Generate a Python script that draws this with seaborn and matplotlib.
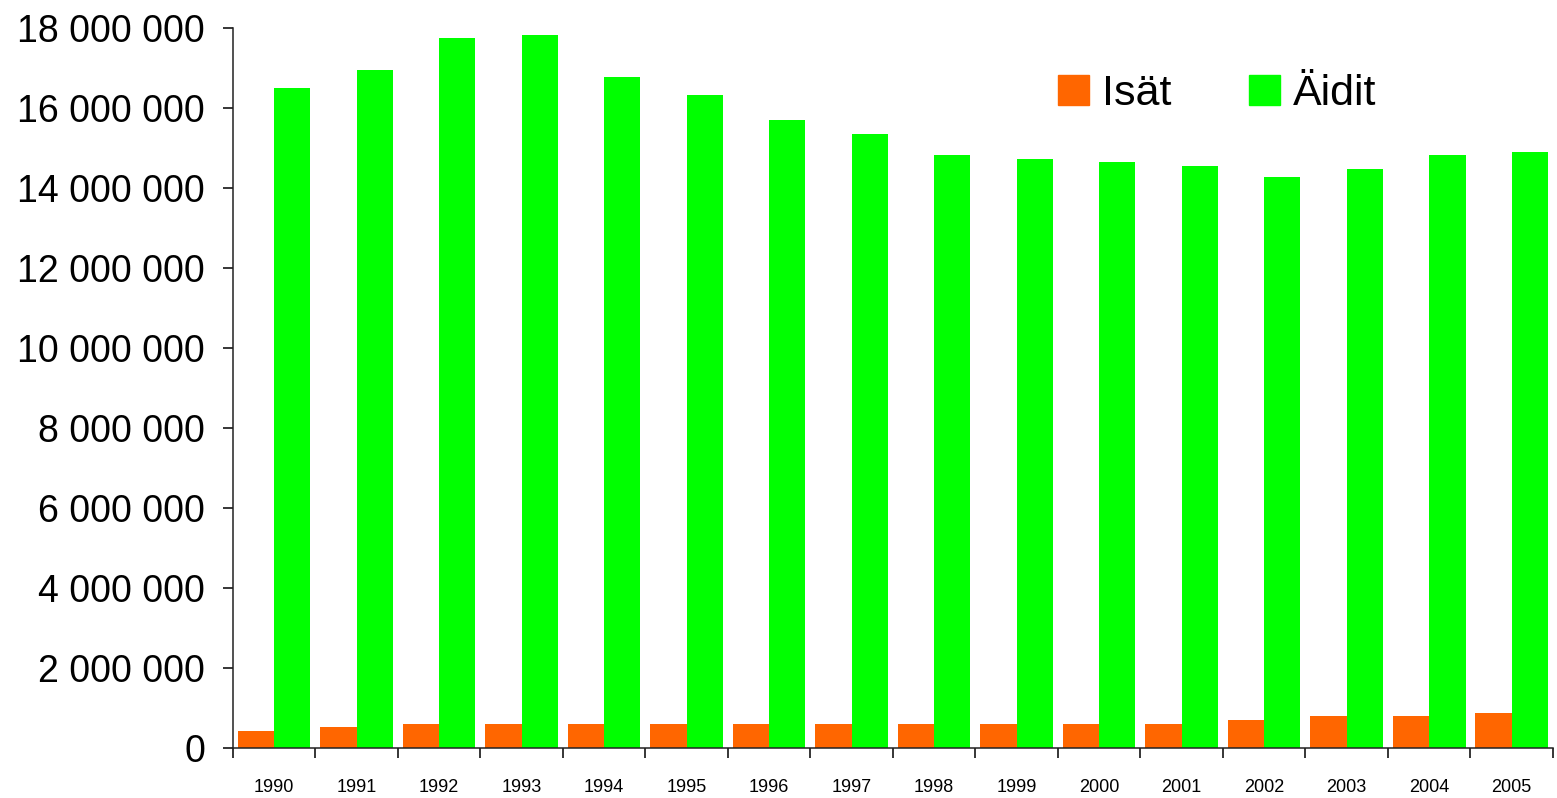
import pandas as pd
import numpy as np
import matplotlib
matplotlib.use("Agg")
import matplotlib.pyplot as plt
from matplotlib.ticker import FuncFormatter, FixedLocator
import seaborn as sns

# data
years = [str(y) for y in range(1990, 2006)]
isat = [425000, 525000, 600000, 600000, 600000, 600000, 600000, 600000,
        600000, 600000, 600000, 600000, 700000, 800000, 800000, 875000]
aidit = [16500000, 16950000, 17750000, 17830000, 16780000, 16330000, 15700000, 15350000,
         14830000, 14730000, 14650000, 14550000, 14280000, 14480000, 14830000, 14900000]
groups = ["Isät", "Äidit"]
colors = ["#FF6600", "#00FF00"]

df = pd.DataFrame({
    "Vuosi": years * 2,
    "Arvo": isat + aidit,
    "Ryhmä": [groups[0]] * len(years) + [groups[1]] * len(years),
})

sns.set_style("white")
plt.rcParams["font.family"] = ["Liberation Sans", "DejaVu Sans"]
plt.rcParams["text.color"] = "black"
plt.rcParams["xtick.color"] = "black"
plt.rcParams["ytick.color"] = "black"

fig = plt.figure(figsize=(15.57, 7.98), dpi=100)
ax = fig.add_axes([0.1496, 0.0627, 0.8478, 0.9022])

sns.barplot(data=df, x="Vuosi", y="Arvo", hue="Ryhmä", palette=colors,
            width=0.88, saturation=1, dodge=True, legend=False, linewidth=0, ax=ax)

ax.set_xlim(-0.5, len(years) - 0.5)
ax.set_ylim(0, 18000000)
ax.set_yticks(np.arange(0, 18000001, 2000000))
ax.yaxis.set_major_formatter(FuncFormatter(lambda v, p: f"{v:,.0f}".replace(",", " ")))
ax.tick_params(axis="y", labelsize=27, length=7, width=1.1, pad=13, direction="out", left=True)

# category boundaries as ticks, labels in the middle
ax.xaxis.set_minor_locator(FixedLocator(np.arange(-0.5, len(years), 1.0)))
ax.tick_params(axis="x", which="major", length=0, labelsize=13, pad=22)
ax.tick_params(axis="x", which="minor", length=7, width=1.1, direction="out", bottom=True)

ax.set_xlabel("")
ax.set_ylabel("")
for s in ["top", "right"]:
    ax.spines[s].set_visible(False)
for s in ["left", "bottom"]:
    ax.spines[s].set_color("#222222")
    ax.spines[s].set_linewidth(1.1)

handles = [plt.Rectangle((0, 0), 1, 1, color=c) for c in colors]
ax.legend(handles, groups, loc="upper left", bbox_to_anchor=(0.625, 0.936), ncol=2,
          frameon=False, fontsize=31, handlelength=0.72, handleheight=0.72,
          handletextpad=0.3, columnspacing=1.8, borderpad=0, borderaxespad=0)

fig.savefig("out.png", dpi=100)
